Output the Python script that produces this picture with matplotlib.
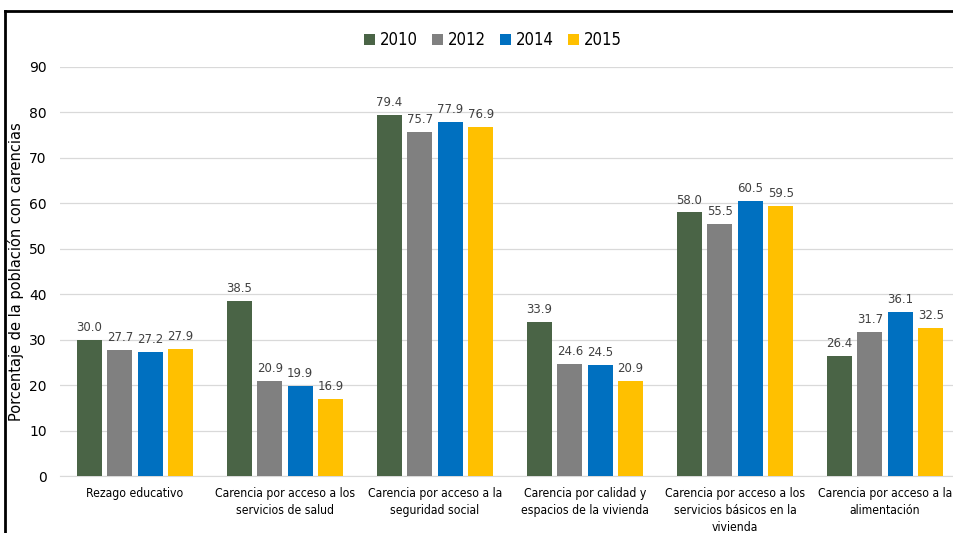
import numpy as np
import matplotlib
matplotlib.use("Agg")
import matplotlib.pyplot as plt

categories = [
    "Rezago educativo",
    "Carencia por acceso a los\nservicios de salud",
    "Carencia por acceso a la\nseguridad social",
    "Carencia por calidad y\nespacios de la vivienda",
    "Carencia por acceso a los\nservicios básicos en la\nvivienda",
    "Carencia por acceso a la\nalimentación",
]
years = ["2010", "2012", "2014", "2015"]
v2010 = [30.0, 38.5, 79.4, 33.9, 58.0, 26.4]
v2012 = [27.7, 20.9, 75.7, 24.6, 55.5, 31.7]
v2014 = [27.2, 19.9, 77.9, 24.5, 60.5, 36.1]
v2015 = [27.9, 16.9, 76.9, 20.9, 59.5, 32.5]
series = [v2010, v2012, v2014, v2015]
colors = ["#4A6446", "#808080", "#0070C0", "#FFC000"]

plt.rcParams.update({"font.family": "DejaVu Sans"})

fig = plt.figure(figsize=(9.54, 5.33), dpi=100)
ax = fig.add_axes([60 / 954, 1 - 476 / 533, 900 / 954, (476 - 67) / 533])

x = np.arange(len(categories))
w = 0.167
pitch = 0.203
for i, (vals, yr, c) in enumerate(zip(series, years, colors)):
    bars = ax.bar(x + (i - 1.5) * pitch, vals, w, color=c, label=yr, zorder=3)
    for b, v in zip(bars, vals):
        ax.text(b.get_x() + b.get_width() / 2, v + 1.3, f"{v:.1f}",
                ha="center", va="bottom", fontsize=8.5, color="#404040")

ax.set_xlim(-0.5, 5.5)
ax.set_ylim(0, 90)
ax.set_yticks(range(0, 91, 10))
ax.tick_params(axis="y", length=0, labelsize=10, pad=9.5, labelcolor="#000000")
ax.set_xticks(x)
ax.set_xticklabels(categories, fontsize=8.7, fontstretch="condensed", linespacing=1.38)
ax.tick_params(axis="x", length=0, pad=8)
ax.grid(axis="y", color="#D9D9D9", linewidth=0.9, zorder=0)
for s in ["top", "right", "left"]:
    ax.spines[s].set_visible(False)
ax.spines["bottom"].set_color("#D9D9D9")
ax.set_ylabel("Porcentaje de la población con carencias", fontsize=10.5)
ax.yaxis.set_label_coords(-0.04, 0.5)

ax.legend(loc="center", bbox_to_anchor=(493 / 954, 1 - 40 / 533),
          bbox_transform=fig.transFigure, ncol=4, frameon=False,
          handlelength=0.65, handleheight=0.65, handletextpad=0.3, columnspacing=0.85,
          prop={"size": 12, "stretch": "condensed"})

# frame lines at top and left of the original image
fig.add_artist(plt.Line2D([5 / 954, 1], [1 - 11 / 533, 1 - 11 / 533],
                          transform=fig.transFigure, color="black", lw=2))
fig.add_artist(plt.Line2D([5 / 954, 5 / 954], [0, 1 - 11 / 533],
                          transform=fig.transFigure, color="black", lw=2))

fig.savefig("out.png", dpi=100)
